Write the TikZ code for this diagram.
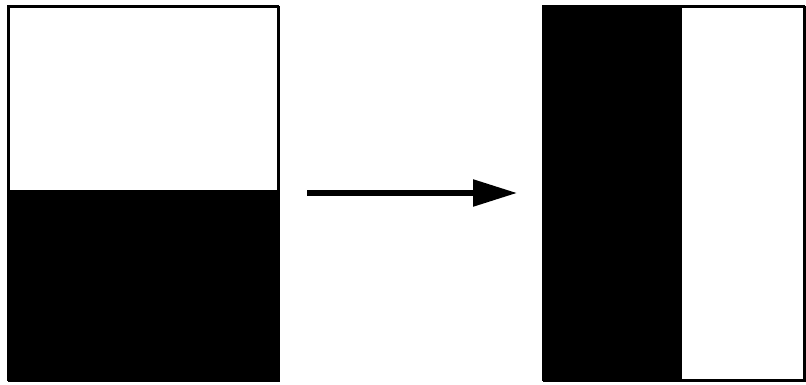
\documentclass[tikz,border=0pt]{standalone}
\usetikzlibrary{arrows.meta}
\begin{document}
\begin{tikzpicture}[x=1pt,y=-1pt,
  frame/.style={draw=black,line width=2pt},
  blackfill/.style={fill=black},
  conn/.style={line width=5.5pt,-{Triangle[length=44pt,width=26pt]}}]
\useasboundingbox (0,0) rectangle (806,385);
% left panel
\node[frame,minimum width=270pt,minimum height=374pt,inner sep=0pt,anchor=north west] (left) at (8,6) {};
\fill[blackfill] (8,190) rectangle (278,380);
\draw[frame] (8,6) rectangle (278,380);
% right panel
\node[frame,minimum width=261pt,minimum height=374pt,inner sep=0pt,anchor=north west] (right) at (543,6) {};
\fill[blackfill] (543,6) rectangle (682,380);
\draw[frame] (543,6) rectangle (804,380);
% arrow
\coordinate (a) at (307,193);
\coordinate (b) at (517,193);
\draw[conn] (a) -- (b);
\end{tikzpicture}
\end{document}
